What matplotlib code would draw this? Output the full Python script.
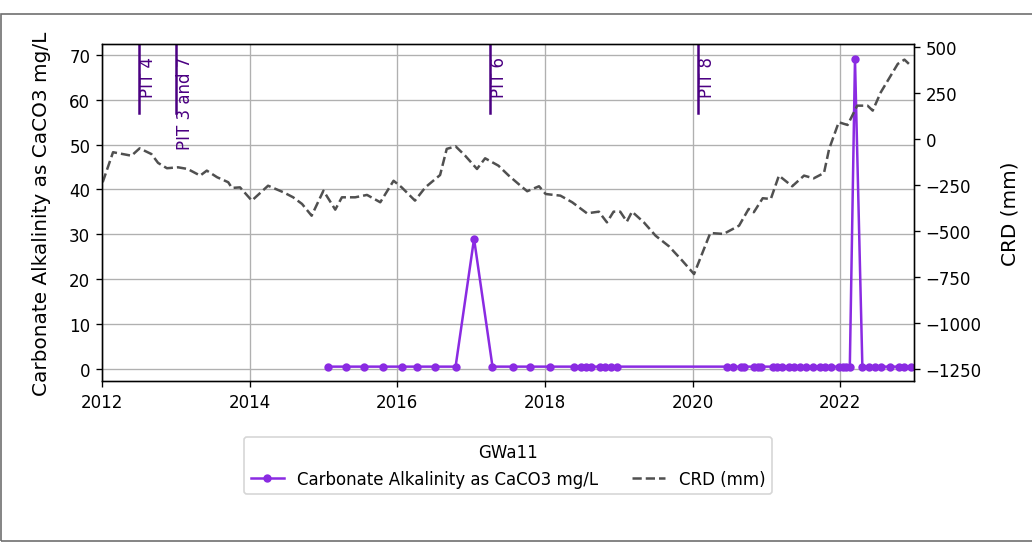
import matplotlib.pyplot as plt
from matplotlib.patches import Rectangle
import matplotlib.transforms as mtransforms

# Carbonate alkalinity samples (decimal year, mg/L)
alk_t = [2015.06, 2015.31, 2015.55, 2015.81, 2016.06, 2016.27, 2016.51, 2016.79,
         2017.04, 2017.29, 2017.57, 2017.80, 2018.07, 2018.40, 2018.49, 2018.56,
         2018.63, 2018.74, 2018.82, 2018.90, 2018.97, 2020.47, 2020.55, 2020.65,
         2020.70, 2020.83, 2020.88, 2020.93, 2021.09, 2021.15, 2021.21, 2021.31,
         2021.38, 2021.45, 2021.53, 2021.63, 2021.72, 2021.80, 2021.88, 2021.98,
         2022.04, 2022.08, 2022.13, 2022.20, 2022.30, 2022.39, 2022.47, 2022.55,
         2022.67, 2022.80, 2022.87, 2022.96]
alk_v = [0.5] * 8 + [29] + [0.5] * 34 + [69] + [0.5] * 8

# CRD (mm)
crd_t = [2012.01, 2012.15, 2012.40, 2012.51, 2012.67, 2012.76, 2012.88, 2013.03,
         2013.16, 2013.33, 2013.42, 2013.56, 2013.71, 2013.76, 2013.87, 2014.03,
         2014.25, 2014.46, 2014.59, 2014.71, 2014.84, 2015.00, 2015.16, 2015.25,
         2015.43, 2015.59, 2015.77, 2015.95, 2016.06, 2016.24, 2016.38, 2016.58,
         2016.67, 2016.79, 2016.92, 2017.08, 2017.19, 2017.37, 2017.51, 2017.67,
         2017.76, 2017.92, 2018.01, 2018.21, 2018.37, 2018.57, 2018.73, 2018.84,
         2018.93, 2019.02, 2019.11, 2019.18, 2019.34, 2019.50, 2019.68, 2019.86,
         2020.02, 2020.24, 2020.42, 2020.63, 2020.76, 2020.83, 2020.95, 2021.06,
         2021.17, 2021.35, 2021.51, 2021.64, 2021.78, 2021.85, 2021.98, 2022.10,
         2022.23, 2022.37, 2022.44, 2022.55, 2022.78, 2022.87, 2022.93]
crd_v = [-235, -72, -91, -51, -82, -130, -159, -154,
         -163, -199, -172, -208, -235, -266, -263, -335,
         -254, -290, -317, -353, -417, -281, -384, -317,
         -317, -304, -344, -227, -263, -335, -263, -196,
         -54, -40, -91, -163, -105, -145, -199, -254,
         -284, -257, -299, -308, -344, -404, -395, -453,
         -395, -395, -449, -395, -453, -526, -583, -661,
         -734, -511, -516, -471, -380, -398, -322, -326,
         -199, -257, -199, -214, -185, -54, 91, 76,
         181, 181, 154, 254, 408, 431, 408]

# pit events
pit_t = [2012.50, 2013.00, 2017.25, 2020.08]
pit_lbl = ['PIT 4', 'PIT 3 and 7', 'PIT 6', 'PIT 8']

fig = plt.figure(figsize=(8.6, 4.5333), dpi=120)
ax1 = fig.add_axes([0.0988, 0.2978, 0.7869, 0.6195])

ax1.plot(alk_t, alk_v, color='#8a2be2', marker='o', markersize=4, lw=1.5,
         label='Carbonate Alkalinity as CaCO3 mg/L')
ax1.set_xlim(2012, 2023)
ax1.set_ylim(-2.7, 72.4)
ax1.set_xticks([2012, 2014, 2016, 2018, 2020, 2022])
ax1.set_xticklabels(['2012', '2014', '2016', '2018', '2020', '2022'])
ax1.set_ylabel('Carbonate Alkalinity as CaCO3 mg/L', fontsize=12, labelpad=11)
ax1.grid(True, color='#b0b0b0')

trans = mtransforms.blended_transform_factory(ax1.transData, ax1.transAxes)
for t, lbl in zip(pit_t, pit_lbl):
    ax1.axvline(t, ymin=0.795, ymax=1, color='indigo', lw=1.5)
    ax1.text(t, 0.965, lbl, rotation=90, va='top', ha='left', color='indigo',
             fontsize=10, transform=trans)

ax2 = ax1.twinx()
ax2.plot(crd_t, crd_v, color='#505050', ls='--', lw=1.5, label='CRD (mm)')
ax2.set_ylim(-1315, 516)
ax2.set_yticks([500, 250, 0, -250, -500, -750, -1000, -1250])
ax2.set_ylabel('CRD (mm)', fontsize=12, labelpad=11)

h1, l1 = ax1.get_legend_handles_labels()
h2, l2 = ax2.get_legend_handles_labels()
ax1.legend(h1 + h2, l1 + l2, title='GWa11', ncol=2, loc='upper center',
           bbox_to_anchor=(0.5, -0.14), fontsize=10)

# outer frame
fig.patches.append(Rectangle((0.001, 0.004), 1.2, 0.9687, fill=False,
                             edgecolor='#707070', lw=1, transform=fig.transFigure))

fig.savefig('out.png', dpi=120)
